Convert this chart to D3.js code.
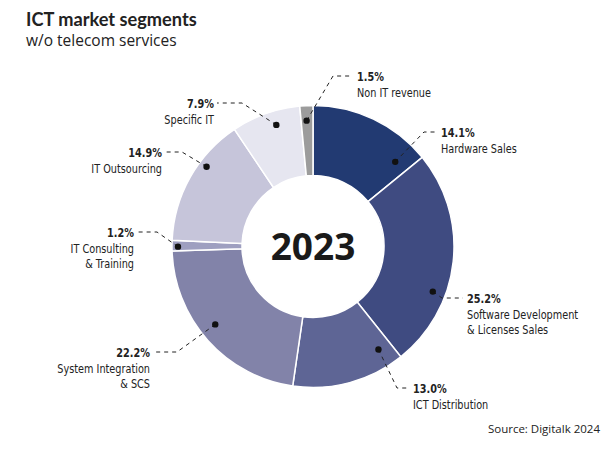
<!DOCTYPE html>
<html>
<head>
<meta charset="utf-8">
<script src="https://cdn.jsdelivr.net/npm/d3@7"></script>
<style>
  body { margin:0; background:#fff; }
  .lbl { font-family:"DejaVu Sans Condensed","DejaVu Sans",sans-serif; fill:#222; }
</style>
</head>
<body>
<div id="chart"></div>
<script>
// ICT market segments 2023, share in %, clockwise from 12 o'clock
const segments = ["Hardware Sales","Software Development & Licenses Sales","ICT Distribution","System Integration & SCS","IT Consulting & Training","IT Outsourcing","Specific IT","Non IT revenue"]
const shares = [14.1,25.2,13.0,22.2,1.2,14.9,7.9,1.5]
const labelLines = [["Hardware Sales"],["Software Development","& Licenses Sales"],["ICT Distribution"],["System Integration","& SCS"],["IT Consulting","& Training"],["IT Outsourcing"],["Specific IT"],["Non IT revenue"]]
const colors = ["#223a72","#3f4b81","#5e6595","#8283a9","#9e9fc0","#c6c5da","#e6e6f0","#9c9c9c"]

// callout layout: where the dot sits inside the slice, the knee and end of the leader
const callouts = [
  {frac:.87, r:118, knee:[424,132], end:437, side:"r"},
  {frac:.66, r:128, knee:[442,298], end:463, side:"r"},
  {frac:.13, r:122, knee:[397,388], end:409, side:"r"},
  {frac:.54, r:125, knee:[177,352], end:153, side:"l"},
  {frac:.40, r:135, knee:[157,232], end:137, side:"l"},
  {frac:.64, r:133, knee:[182,152], end:165, side:"l"},
  {frac:.60, r:127, knee:[242,103], end:217, side:"l"},
  {frac:.46, r:126, knee:[333,76], end:353, side:"r"}
]

let width = 616, height = 457,
    cx = 313, cy = 246.5,
    outerR = 141, innerR = 71

let svg = d3.select("#chart").append("svg").attr("width",width).attr("height",height)

svg.append("text").attr("x",26).attr("y",26).text("ICT market segments")
   .attr("font-family","Lato").attr("font-weight",700).attr("font-size",18.2).attr("fill","#222")
svg.append("text").attr("x",26).attr("y",46).text("w/o telecom services")
   .attr("font-family","Open Sans").attr("font-size",15.5).attr("fill","#222")
svg.append("text").attr("x",600).attr("y",433).text("Source: Digitalk 2024").attr("text-anchor","end")
   .attr("font-family","Open Sans").attr("font-size",11.5).attr("fill","#222")

let data = segments.map((s,i) => ({name:s, value:shares[i], i:i}))
let pie = d3.pie().value(d => d.value).sort(null)
let arcs = pie(data)
let arc = d3.arc().innerRadius(innerR).outerRadius(outerR)

let g = svg.append("g").attr("transform",`translate(${cx},${cy})`)

g.selectAll("path").data(arcs).enter().append("path")
  .attr("d",arc)
  .attr("fill",d => colors[d.data.i])
  .attr("stroke","#fff").attr("stroke-width",1.5)

g.append("text").text("2023").attr("text-anchor","middle").attr("dy","0.36em")
  .attr("font-family","Open Sans").attr("font-weight",700).attr("font-size",37).attr("fill","#1a1a1a")

// leaders
arcs.forEach((a,i) => {
  let c = callouts[i]
  let ang = a.startAngle + c.frac*(a.endAngle - a.startAngle)
  let dx = cx + c.r*Math.sin(ang), dy = cy - c.r*Math.cos(ang)
  svg.append("path")
    .attr("d",d3.line()([[dx,dy],c.knee,[c.end,c.knee[1]]]))
    .attr("fill","none").attr("stroke","#222").attr("stroke-width",1).attr("stroke-dasharray","4,4")
  svg.append("circle").attr("cx",dx).attr("cy",dy).attr("r",3.2).attr("fill","#111")

  let tx = c.side == "r" ? c.end + 4 : c.end - 3
  let anchor = c.side == "r" ? "start" : "end"
  // narrow the label horizontally to mimic the condensed face
  let t = svg.append("g").attr("transform",`translate(${tx},${c.knee[1]+5}) scale(0.83,1)`)
    .append("text").attr("class","lbl").attr("text-anchor",anchor).attr("font-size",13)
  t.append("tspan").attr("x",0).attr("y",0).attr("font-weight",700).text(shares[i].toFixed(1)+"%")
  labelLines[i].forEach((ln,k) => {
    t.append("tspan").attr("x",0).attr("y",16+k*15).text(ln)
  })
})
</script>
</body>
</html>
